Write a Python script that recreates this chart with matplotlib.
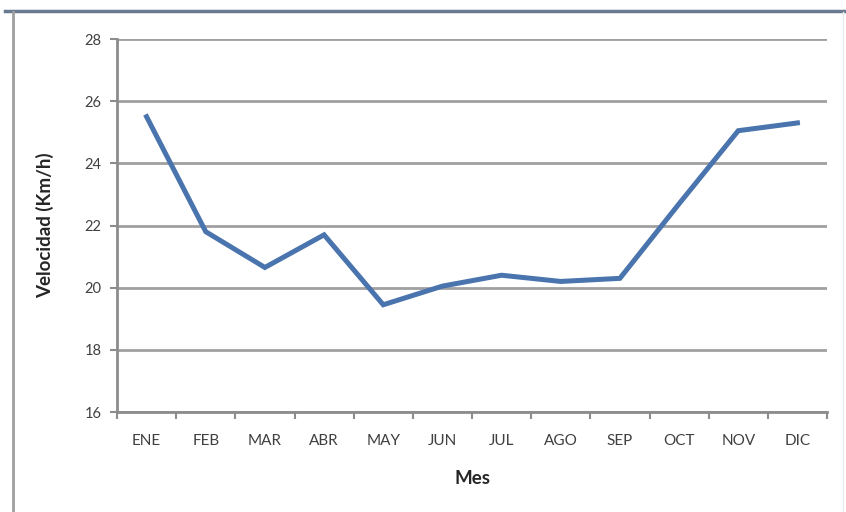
import matplotlib
matplotlib.use("Agg")
import matplotlib.pyplot as plt
from matplotlib.lines import Line2D

months = ["ENE", "FEB", "MAR", "ABR", "MAY", "JUN", "JUL", "AGO", "SEP", "OCT", "NOV", "DIC"]
velocidad = [25.5, 21.8, 20.65, 21.7, 19.45, 20.05, 20.4, 20.2, 20.3, 22.7, 25.05, 25.3]
yticks = [16, 18, 20, 22, 24, 26, 28]

plt.rcParams['font.family'] = ['Lato', 'DejaVu Sans']

fig = plt.figure(figsize=(8.46, 5.12), dpi=100)
ax = fig.add_axes([117/846, 1-412/512, (827-117)/846, (412-39)/512])

x = list(range(len(months)))
ax.plot(x, velocidad, color="#4a74ad", lw=3.6, solid_joinstyle="miter", zorder=3)

ax.set_xlim(-0.5, len(months)-0.5)
ax.set_ylim(16, 28)
ax.set_yticks(yticks)
ax.set_yticklabels([str(t) for t in yticks], fontsize=10.5, color="#404040")
ax.set_xticks(x)
ax.set_xticklabels(months, fontsize=11, color="#404040")
ax.set_xticks([i - 0.5 for i in range(len(months)+1)], minor=True)
ax.tick_params(axis='x', which='major', length=0, pad=16)
ax.tick_params(axis='x', which='minor', length=5, width=1.5, color="#8c8c8c", direction='out')
ax.tick_params(axis='y', length=5, width=1.5, color="#8c8c8c", pad=6)

ax.grid(axis='y', color="#a0a0a0", lw=2)
ax.set_axisbelow(True)
for s in ["top", "right"]:
    ax.spines[s].set_visible(False)
for s in ["left", "bottom"]:
    ax.spines[s].set_color("#8c8c8c")
    ax.spines[s].set_linewidth(2)

ax.set_ylabel("Velocidad (Km/h)", fontsize=13.5, fontweight="bold", color="#262626", labelpad=22)
ax.set_xlabel("Mes", fontsize=13.5, fontweight="bold", color="#262626", labelpad=16)

# outer frame lines
fig.add_artist(Line2D([5/846, 1], [1-11/512, 1-11/512], transform=fig.transFigure, color="#6a7a90", lw=2.5))
fig.add_artist(Line2D([13/846, 13/846], [0, 1-12/512], transform=fig.transFigure, color="#a0a0a0", lw=2))
fig.add_artist(Line2D([843/846, 843/846], [0, 1-12/512], transform=fig.transFigure, color="#ebebeb", lw=1))

fig.savefig("out.png", dpi=100)
